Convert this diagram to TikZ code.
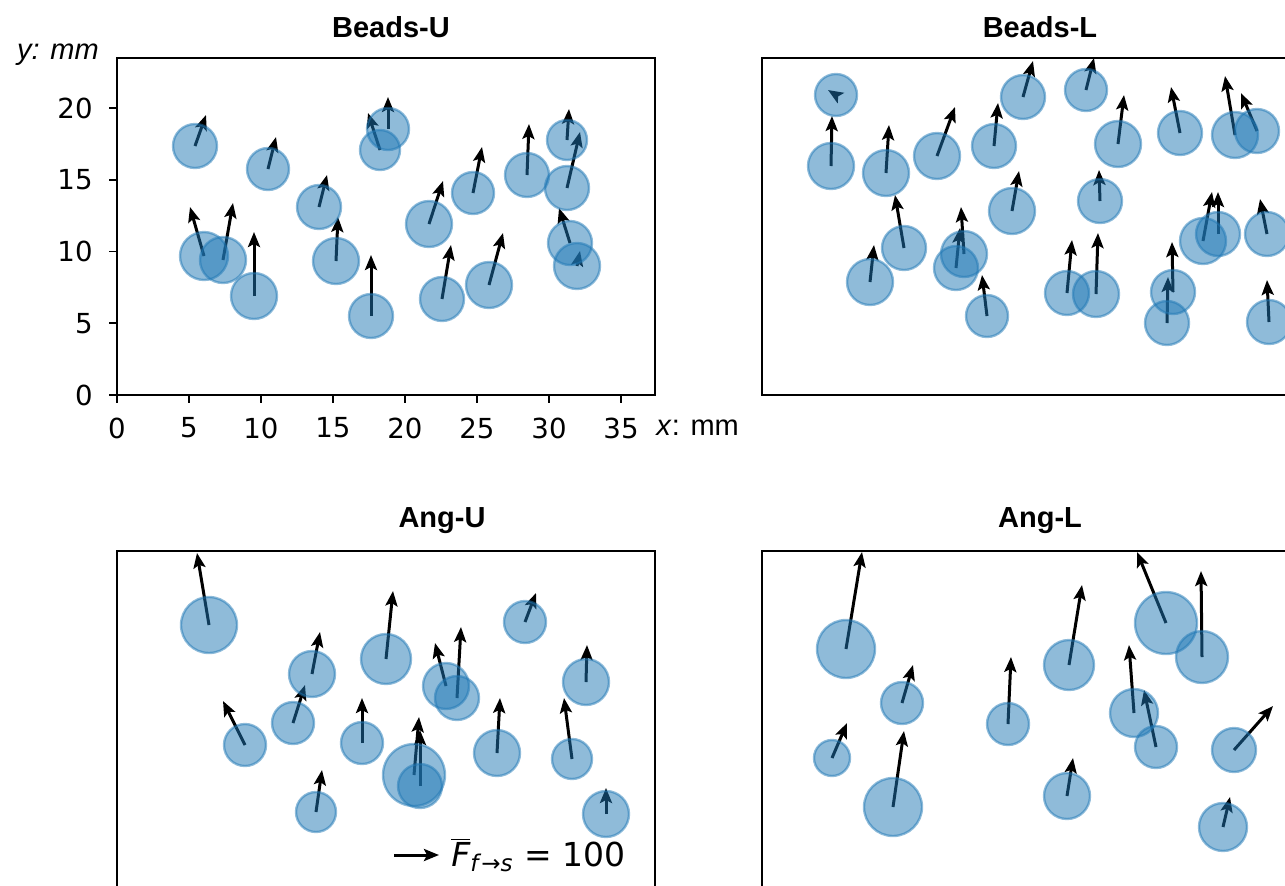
\documentclass[tikz,border=0pt]{standalone}
\usepackage{fontspec}
\setmainfont{DejaVu Sans}
\newfontfamily\arialf{Liberation Sans}
\usetikzlibrary{arrows.meta}
\definecolor{Czero}{HTML}{1F77B4}
\tikzset{
  bead/.style={fill=Czero, fill opacity=0.5, draw=Czero, draw opacity=0.5, line width=1.2pt},
  force/.style={line width=1.5pt, -{Stealth[length=7.5pt,width=6pt,inset=1.5pt]}},
  frame/.style={line width=1.1pt},
  tick/.style={line width=0.9pt},
  ticklab/.style={font=\fontsize{13.8}{14}\selectfont, inner sep=0pt},
  ptitle/.style={font=\arialf\bfseries\fontsize{14.5}{16}\selectfont, inner sep=0pt},
  axlab/.style={font=\arialf\fontsize{14.5}{16}\selectfont, inner sep=0pt}
}
\begin{document}
\begin{tikzpicture}[x=0.5pt, y=-0.5pt]
\useasboundingbox (0,0) rectangle (1285,885);
\clip (0,0) rectangle (1285,885);
% ---------- arrows (beneath the beads) ----------
\foreach \cx/\cy/\r/\tx/\ty in {
 195/146/22/206/115, 268/169/21/276/137, 380/150/20/368/113, 388/129/21/388/97,
 319/207/22/327/175, 336/261/23/338/217, 204/256/24/190/207, 223/260/23/233/203,
 254/296/23/254/232, 429/224/23/443/181, 473/193/21/482/147, 527/175/22/529/124,
 567/140/20/569/109, 567/188/22/580/132, 570/243/22/559/208, 577/266/23/580/251,
 442/299/22/451/245, 489/285/23/503/233, 371/316/22/371/255,
 836/95/21/828/90, 831/166/23/832/116, 886/173/23/889/125, 937/156/23/955/107,
 994/146/22/998/103, 1023/97/22/1033/61, 1086/90/21/1094/58, 1118/144/23/1124/95,
 1180/133/22/1171/87, 1235/135/23/1225/76, 1257/131/22/1241/93, 1012/211/23/1019/171,
 1100/201/22/1099/170, 904/248/22/895/195, 870/282/23/874/245, 964/254/23/961/207,
 956/268/22/960/228, 987/316/21/982/275, 1067/293/22/1072/240, 1096/294/23/1098/233,
 1173/292/22/1172/242, 1167/323/22/1168/277, 1203/241/23/1212/192, 1218/234/22/1218/192,
 1267/234/22/1260/199, 1269/322/22/1267/280,
 209/625/28/197/553, 312/674/23/320/632, 386/659/25/393/591, 525/622/21/536/593,
 586/682/23/587/645, 446/686/23/435/643, 457/698/22/461/627, 293/723/21/305/685,
 245/745/21/223/701, 362/743/21/362/698, 414/775/31/419/717, 420/786/22/420/730,
 497/753/23/500/698, 572/759/20/564/698, 316/812/20/322/770, 606/814/23/606/788,
 846/649/29/862/552, 902/703/21/913/665, 832/758/18/847/723, 893/807/29/904/731,
 1008/724/21/1011/657, 1069/665/25/1082/585, 1067/796/23/1073/758, 1166/623/31/1137/552,
 1202/657/26/1201/571, 1134/713/24/1129/645, 1156/747/21/1144/690, 1234/750/22/1273/706,
 1223/827/24/1230/797}
 { \draw[force] (\cx,\cy) -- (\tx,\ty); }
% ---------- beads ----------
\foreach \cx/\cy/\r/\tx/\ty in {
 195/146/22/206/115, 268/169/21/276/137, 380/150/20/368/113, 388/129/21/388/97,
 319/207/22/327/175, 336/261/23/338/217, 204/256/24/190/207, 223/260/23/233/203,
 254/296/23/254/232, 429/224/23/443/181, 473/193/21/482/147, 527/175/22/529/124,
 567/140/20/569/109, 567/188/22/580/132, 570/243/22/559/208, 577/266/23/580/251,
 442/299/22/451/245, 489/285/23/503/233, 371/316/22/371/255,
 836/95/21/828/90, 831/166/23/832/116, 886/173/23/889/125, 937/156/23/955/107,
 994/146/22/998/103, 1023/97/22/1033/61, 1086/90/21/1094/58, 1118/144/23/1124/95,
 1180/133/22/1171/87, 1235/135/23/1225/76, 1257/131/22/1241/93, 1012/211/23/1019/171,
 1100/201/22/1099/170, 904/248/22/895/195, 870/282/23/874/245, 964/254/23/961/207,
 956/268/22/960/228, 987/316/21/982/275, 1067/293/22/1072/240, 1096/294/23/1098/233,
 1173/292/22/1172/242, 1167/323/22/1168/277, 1203/241/23/1212/192, 1218/234/22/1218/192,
 1267/234/22/1260/199, 1269/322/22/1267/280,
 209/625/28/197/553, 312/674/23/320/632, 386/659/25/393/591, 525/622/21/536/593,
 586/682/23/587/645, 446/686/23/435/643, 457/698/22/461/627, 293/723/21/305/685,
 245/745/21/223/701, 362/743/21/362/698, 414/775/31/419/717, 420/786/22/420/730,
 497/753/23/500/698, 572/759/20/564/698, 316/812/20/322/770, 606/814/23/606/788,
 846/649/29/862/552, 902/703/21/913/665, 832/758/18/847/723, 893/807/29/904/731,
 1008/724/21/1011/657, 1069/665/25/1082/585, 1067/796/23/1073/758, 1166/623/31/1137/552,
 1202/657/26/1201/571, 1134/713/24/1129/645, 1156/747/21/1144/690, 1234/750/22/1273/706,
 1223/827/24/1230/797}
 { \path[bead] (\cx,\cy) circle[radius=\r]; }
% ---------- frames ----------
\draw[frame] (117,58) rectangle (655,395);
\draw[frame] (762,58) rectangle (1300,395);
\draw[frame] (117,551) rectangle (655,900);
\draw[frame] (762,551) rectangle (1300,900);
% ---------- ticks and tick labels (Beads-U) ----------
\foreach \v [count=\i from 0] in {0,5,10,15,20,25,30,35}
 { \draw[tick] (117+72*\i,395) -- (117+72*\i,403);
   \node[ticklab, anchor=center] (xl\i) at (117+72*\i,428) {\v}; }
\foreach \v [count=\i from 0] in {0,5,10,15,20}
 { \draw[tick] (117,395-71.75*\i) -- (109,395-71.75*\i);
   \node[ticklab, anchor=east] (yl\i) at (93,395-71.75*\i) {\v}; }
\node[axlab, anchor=center] (ylab) at (58,55) {\itshape y: mm};
\node[axlab, anchor=west] (xlab) at (656,428) {\textit{x}: mm};
% ---------- titles ----------
\node[ptitle] (t1) at (391,27) {Beads-U};
\node[ptitle] (t2) at (1040,27) {Beads-L};
\node[ptitle] (t3) at (442,521) {Ang-U};
\node[ptitle] (t4) at (1040,521) {Ang-L};
% ---------- legend ----------
\coordinate (la) at (394,855);
\coordinate (lb) at (439,855);
\draw[force] (la) -- (lb);
\node[font=\fontsize{16.5}{18}\selectfont, inner sep=0pt, anchor=base west] (leg) at (451,866)
 {$\overline{\hbox{\itshape F}}_{\hbox{\fontsize{11.5}{12}\selectfont\itshape f\/\upshape→\itshape s}}$ = 100};
\end{tikzpicture}
\end{document}
